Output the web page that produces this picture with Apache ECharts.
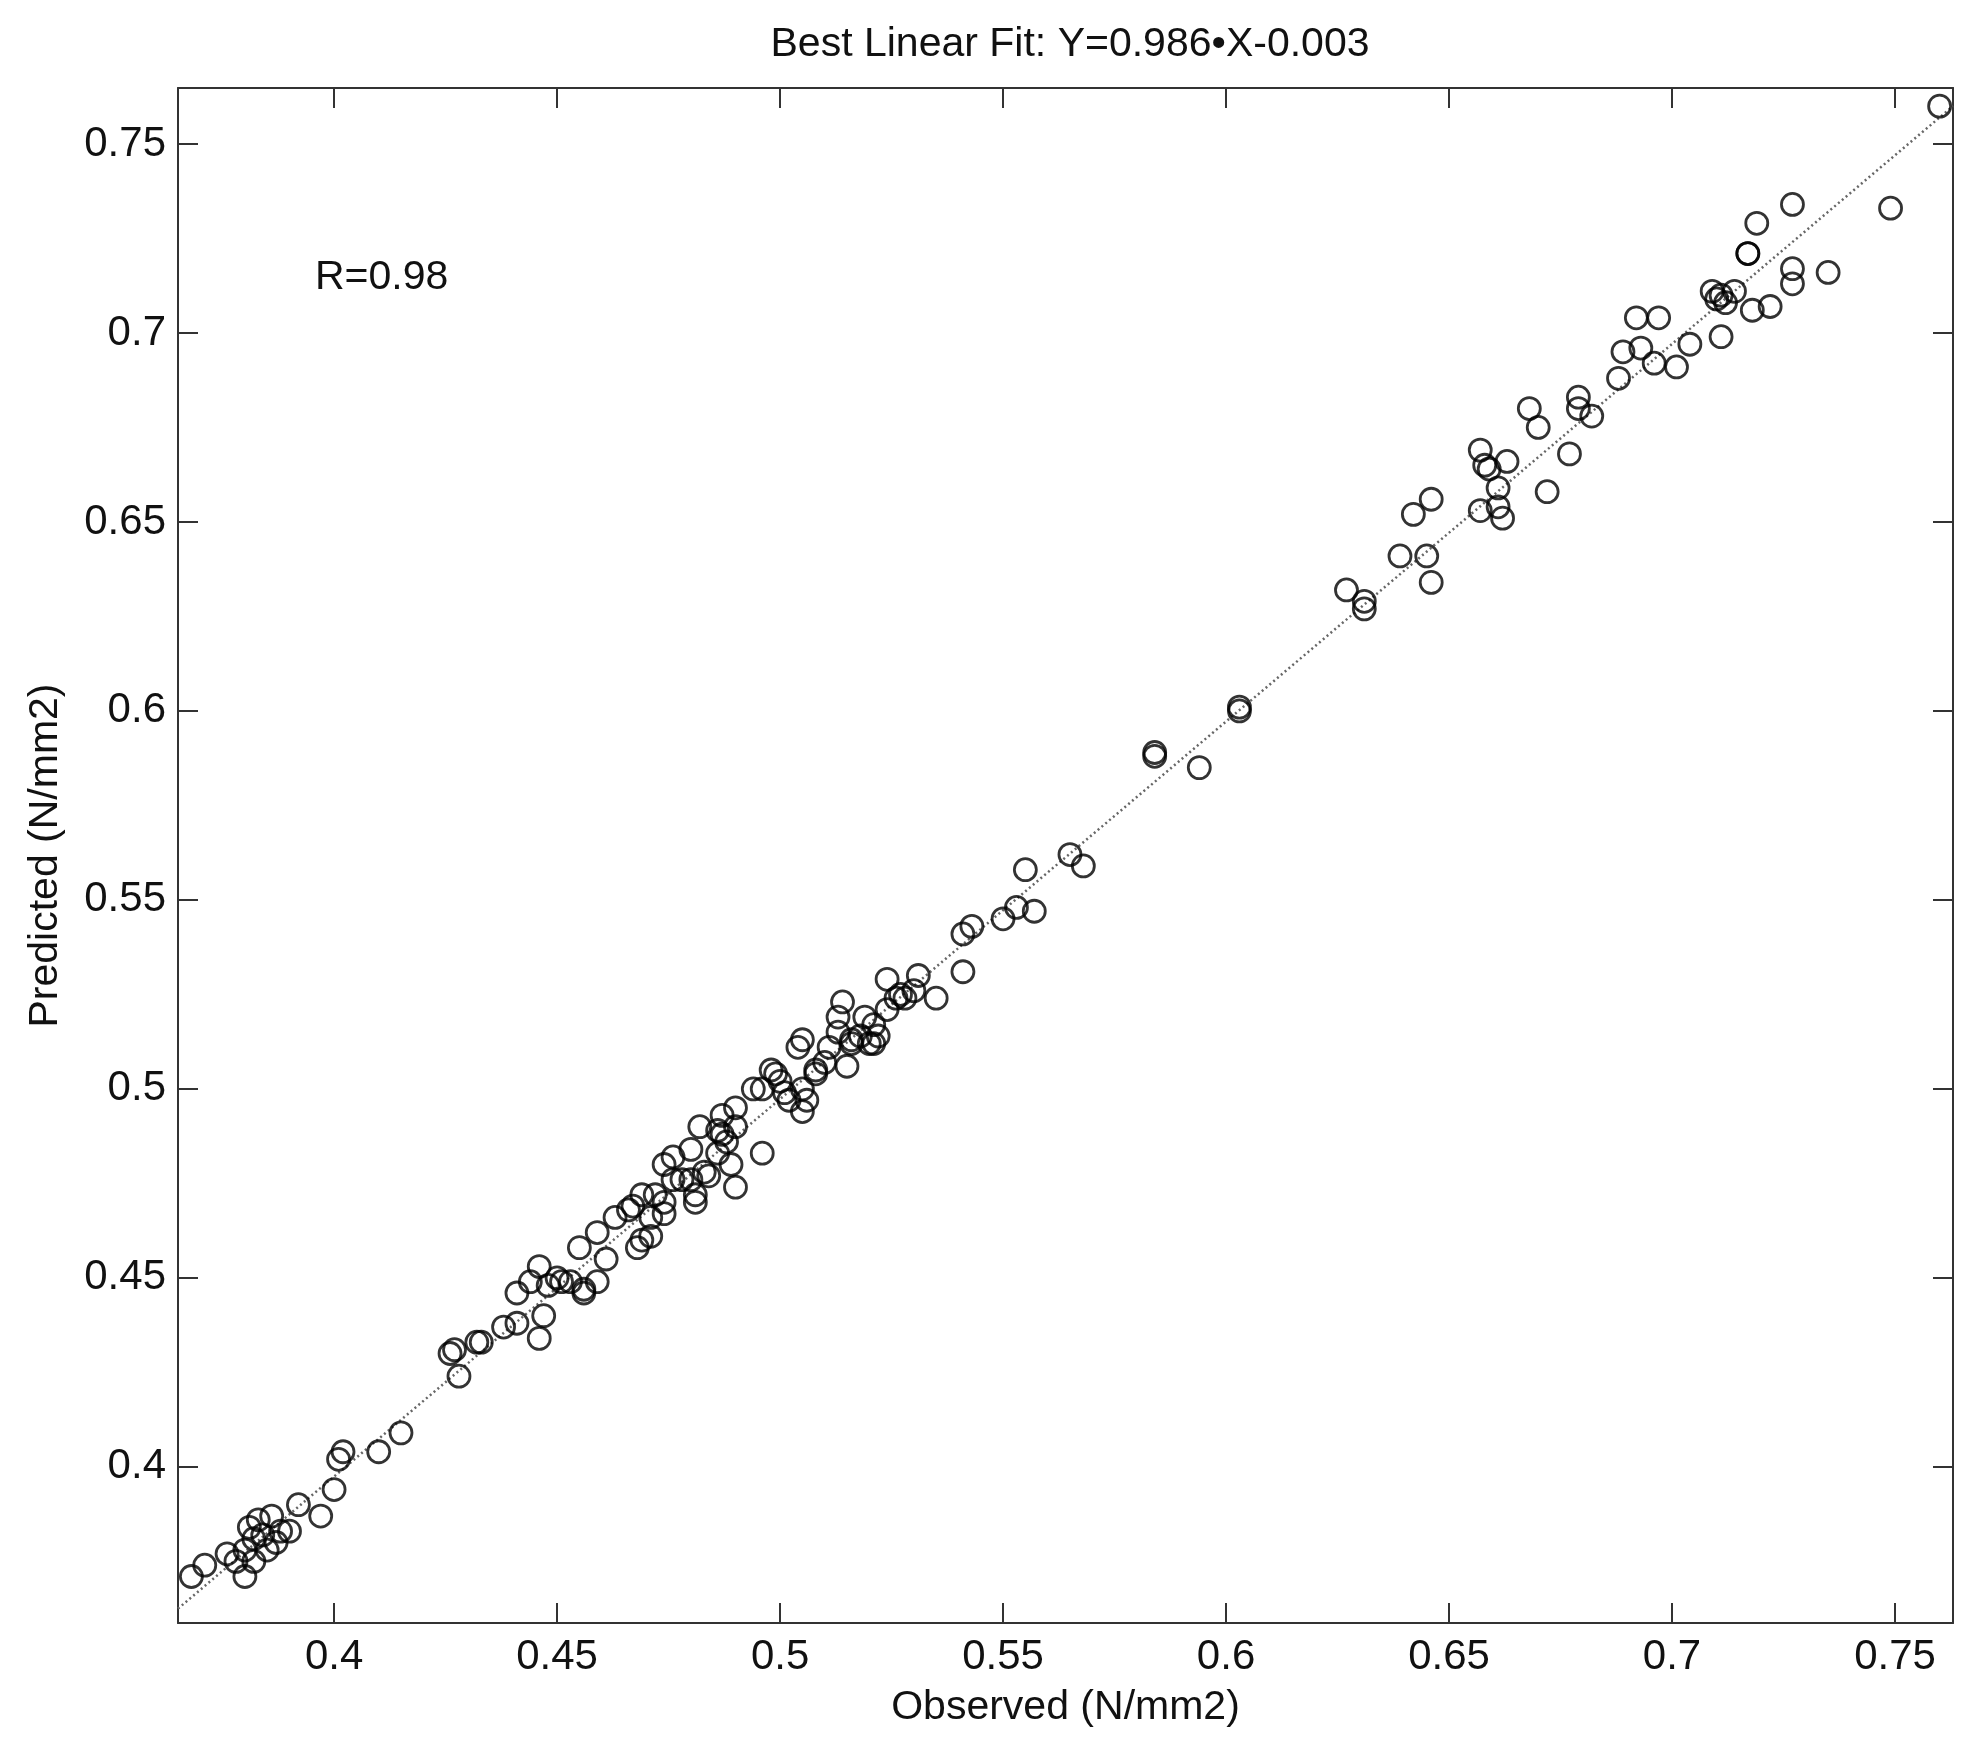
<!DOCTYPE html>
<html>
<head>
<meta charset="utf-8">
<title>Best Linear Fit</title>
<script src="https://cdn.jsdelivr.net/npm/echarts@6/dist/echarts.min.js"></script>
<style>
html, body { margin: 0; padding: 0; background: #fff; }
#main { width: 1982px; height: 1750px; }
</style>
</head>
<body>
<div id="main"></div>
<script>
// tick positions on both axes
var xTicks = [0.4, 0.45, 0.5, 0.55, 0.6, 0.65, 0.7, 0.75];
var yTicks = [0.4, 0.45, 0.5, 0.55, 0.6, 0.65, 0.7, 0.75];

// observed values (x)
var observed = [
	0.368, 0.371, 0.376, 0.378, 0.380, 0.380, 0.381, 0.382, 0.382, 0.383, 0.384, 0.385, 0.386, 0.387, 0.388, 0.390,
	0.392, 0.397, 0.400, 0.401, 0.402, 0.410, 0.415,
	0.426, 0.427, 0.428, 0.432, 0.433, 0.438, 0.441, 0.441, 0.444, 0.446, 0.446, 0.447, 0.448, 0.450, 0.451, 0.453,
	0.455, 0.456, 0.456, 0.459, 0.459, 0.461, 0.463, 0.466, 0.467, 0.468, 0.469, 0.469, 0.471, 0.471, 0.472, 0.474,
	0.474, 0.474, 0.476, 0.478, 0.480, 0.480, 0.481, 0.481, 0.482, 0.484, 0.486, 0.486, 0.487, 0.488, 0.489, 0.490,
	0.490, 0.490, 0.494, 0.496, 0.496, 0.499, 0.500, 0.501, 0.502, 0.504, 0.505, 0.505, 0.505, 0.506, 0.508, 0.510,
	0.511, 0.513, 0.513, 0.514, 0.515, 0.516, 0.518, 0.519, 0.520, 0.521, 0.522, 0.524, 0.524, 0.526, 0.528, 0.530,
	0.531, 0.535, 0.541, 0.541, 0.543, 0.550, 0.553, 0.555, 0.557, 0.565, 0.568, 0.584, 0.584, 0.594, 0.603, 0.603,
	0.627, 0.631, 0.631, 0.639, 0.642, 0.645, 0.646, 0.646, 0.657, 0.657, 0.658, 0.659, 0.661, 0.661, 0.662, 0.663,
	0.668, 0.670, 0.672, 0.677, 0.679, 0.679, 0.682, 0.688, 0.689, 0.692, 0.693, 0.696, 0.697, 0.701, 0.704, 0.709,
	0.710, 0.711, 0.711, 0.712, 0.714, 0.718, 0.722, 0.717, 0.717, 0.719, 0.727, 0.727, 0.727, 0.735, 0.749, 0.760,
	0.498, 0.508, 0.516, 0.521, 0.527, 0.476, 0.483, 0.487
];
// predicted values (y)
var predicted = [
	0.371, 0.374, 0.377, 0.375, 0.371, 0.378, 0.384, 0.381, 0.375, 0.386, 0.382, 0.378, 0.387, 0.380, 0.383, 0.383,
	0.390, 0.387, 0.394, 0.402, 0.404, 0.404, 0.409,
	0.430, 0.431, 0.424, 0.433, 0.433, 0.437, 0.438, 0.446, 0.449, 0.453, 0.434, 0.440, 0.448, 0.450, 0.449, 0.449,
	0.458, 0.446, 0.447, 0.449, 0.462, 0.455, 0.466, 0.468, 0.469, 0.458, 0.472, 0.460, 0.461, 0.466, 0.472, 0.470,
	0.467, 0.480, 0.482, 0.476, 0.484, 0.476, 0.470, 0.472, 0.490, 0.477, 0.483, 0.489, 0.493, 0.486, 0.480, 0.474,
	0.495, 0.490, 0.500, 0.483, 0.500, 0.504, 0.502, 0.499, 0.497, 0.511, 0.513, 0.500, 0.494, 0.497, 0.504, 0.507,
	0.511, 0.515, 0.519, 0.523, 0.506, 0.513, 0.514, 0.519, 0.512, 0.517, 0.514, 0.529, 0.521, 0.524, 0.524, 0.526,
	0.530, 0.524, 0.531, 0.541, 0.543, 0.545, 0.548, 0.558, 0.547, 0.562, 0.559, 0.589, 0.588, 0.585, 0.600, 0.601,
	0.632, 0.629, 0.627, 0.641, 0.652, 0.641, 0.634, 0.656, 0.669, 0.653, 0.665, 0.664, 0.659, 0.654, 0.651, 0.666,
	0.680, 0.675, 0.658, 0.668, 0.683, 0.680, 0.678, 0.688, 0.695, 0.704, 0.696, 0.692, 0.704, 0.691, 0.697, 0.711,
	0.709, 0.699, 0.710, 0.708, 0.711, 0.706, 0.707, 0.721, 0.721, 0.729, 0.717, 0.713, 0.734, 0.716, 0.733, 0.760,
	0.505, 0.505, 0.512, 0.512, 0.525, 0.476, 0.478, 0.488
];

// dotted reference line, end points
var refLineX = [0.365, 0.763];
var refLineY = [0.3625, 0.7600];

var xRange = [0.365, 0.763];
var yRange = [0.3587, 0.7648];

var font = '"Liberation Sans", Arial, Helvetica, sans-serif';

var points = [];
for (var i = 0; i < observed.length; i++) {
	points.push([observed[i], predicted[i]]);
}
var refLine = [];
for (var j = 0; j < refLineX.length; j++) {
	refLine.push([refLineX[j], refLineY[j]]);
}

var axisLine = { show: true, lineStyle: { color: '#333', width: 2 } };
var tickStyle = { color: '#333', width: 2 };

var chart = echarts.init(document.getElementById('main'));
var option = {
	backgroundColor: '#fff',
	animation: false,
	title: {
		text: 'Best Linear Fit: Y=0.986\u2022X-0.003',
		left: 1065,
		textAlign: 'center',
		top: 19,
		textStyle: { fontFamily: font, fontSize: 41, fontWeight: 'normal', color: '#111' }
	},
	graphic: [{
		type: 'text',
		left: 315,
		top: 257,
		style: { text: 'R=0.98', font: '41px ' + font, fill: '#111' }
	}],
	grid: { left: 178, right: 29, top: 88, bottom: 127, containLabel: false },
	xAxis: [{
		type: 'value',
		position: 'bottom',
		min: xRange[0],
		max: xRange[1],
		name: 'Observed (N/mm2)',
		nameLocation: 'middle',
		nameGap: 64,
		nameTextStyle: { fontFamily: font, fontSize: 41, color: '#111' },
		axisLine: axisLine,
		axisTick: { inside: true, length: 20, customValues: xTicks, lineStyle: tickStyle },
		axisLabel: { customValues: xTicks, fontFamily: font, fontSize: 42, color: '#111', margin: 13 },
		splitLine: { show: false }
	}, {
		type: 'value',
		position: 'top',
		min: xRange[0],
		max: xRange[1],
		axisLine: axisLine,
		axisTick: { inside: true, length: 20, customValues: xTicks, lineStyle: tickStyle },
		axisLabel: { show: false },
		splitLine: { show: false }
	}],
	yAxis: [{
		type: 'value',
		position: 'left',
		min: yRange[0],
		max: yRange[1],
		name: 'Predicted (N/mm2)',
		nameLocation: 'middle',
		nameGap: 112,
		nameTextStyle: { fontFamily: font, fontSize: 41, color: '#111' },
		axisLine: axisLine,
		axisTick: { inside: true, length: 20, customValues: yTicks, lineStyle: tickStyle },
		axisLabel: { customValues: yTicks, fontFamily: font, fontSize: 42, color: '#111', margin: 12 },
		splitLine: { show: false }
	}, {
		type: 'value',
		position: 'right',
		min: yRange[0],
		max: yRange[1],
		axisLine: axisLine,
		axisTick: { inside: true, length: 20, customValues: yTicks, lineStyle: tickStyle },
		axisLabel: { show: false },
		splitLine: { show: false }
	}],
	series: [{
		// dotted line
		type: 'line',
		data: refLine,
		symbol: 'none',
		clip: true,
		lineStyle: { color: '#666', width: 2.5, type: [2, 3] },
		z: 1
	}, {
		// data points as open circles
		type: 'scatter',
		data: points,
		symbol: 'circle',
		symbolSize: 22,
		itemStyle: { color: 'rgba(0,0,0,0)', borderColor: '#000', borderWidth: 2.8 },
		z: 2
	}]
};
chart.setOption(option);
</script>
</body>
</html>
